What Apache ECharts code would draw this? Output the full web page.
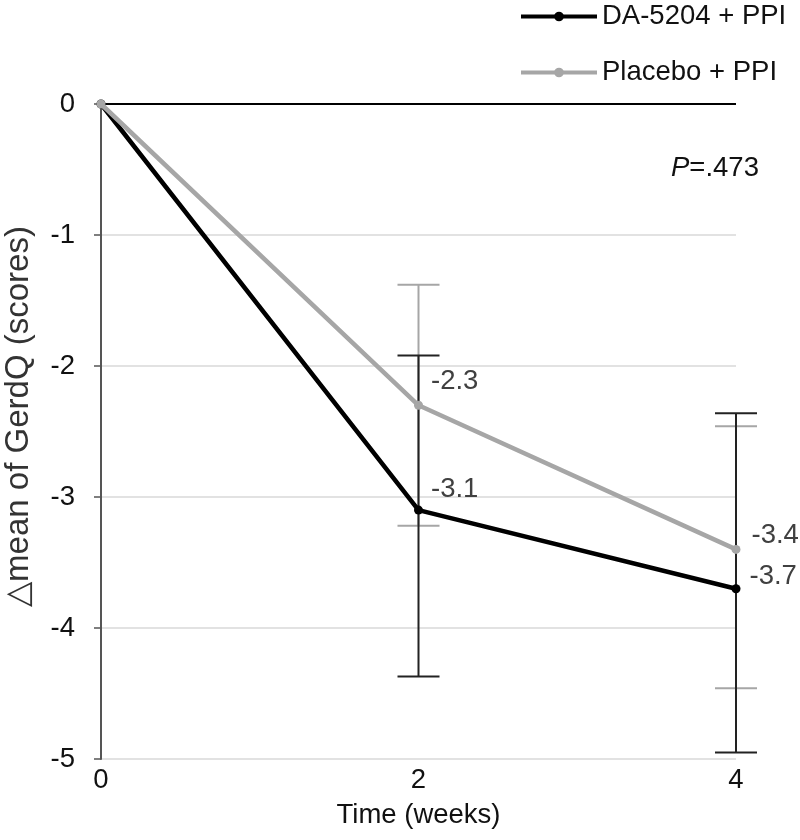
<!DOCTYPE html>
<html>
<head>
<meta charset="utf-8">
<script src="https://cdn.jsdelivr.net/npm/echarts@6/dist/echarts.min.js"></script>
<style>html,body{margin:0;padding:0;background:#fff}#c{width:800px;height:840px}</style>
</head>
<body>
<div id="c"></div>
<script>
const weeks = [0, 2, 4];
const daMean = [0, -3.1, -3.7];
const daUpper = [null, -1.92, -2.36];
const daLower = [null, -4.37, -4.95];
const placeboMean = [0, -2.3, -3.4];
const placeboUpper = [null, -1.38, -2.46];
const placeboLower = [null, -3.22, -4.46];
const seriesNames = ['DA-5204 + PPI', 'Placebo + PPI'];
const xTicks = [0, 2, 4];
const yTicks = [0, -1, -2, -3, -4, -5];

const FONT = 'Liberation Sans, Arial, sans-serif';
const FS = 27.5;
const BLACK = '#000000';
const GRAY = '#a6a6a6';

function errData(lower, upper) {
  const out = [];
  weeks.forEach((w, i) => { if (lower[i] != null) out.push([w, lower[i], upper[i]]); });
  return out;
}
function renderErr(color) {
  return function (params, api) {
    const x = api.value(0);
    const lo = api.coord([x, api.value(1)]);
    const hi = api.coord([x, api.value(2)]);
    const hw = 21;
    const st = { stroke: color, lineWidth: 2 };
    return { type: 'group', children: [
      { type: 'line', shape: { x1: lo[0], y1: lo[1], x2: hi[0], y2: hi[1] }, style: st },
      { type: 'line', shape: { x1: lo[0] - hw, y1: lo[1], x2: lo[0] + hw, y2: lo[1] }, style: st },
      { type: 'line', shape: { x1: hi[0] - hw, y1: hi[1], x2: hi[0] + hw, y2: hi[1] }, style: st }
    ]};
  };
}
function lineData(vals, offsets) {
  return weeks.map((w, i) => ({
    value: [w, vals[i]],
    label: { show: i > 0, offset: offsets[i] }
  }));
}
const daOffsets = [[0, 0], [8, -21], [9, -12]];
const plOffsets = [[0, 0], [8, -24], [11, -14]];

const chart = echarts.init(document.getElementById('c'), null, { renderer: 'canvas' });
chart.setOption({
  animation: false,
  backgroundColor: '#fff',
  textStyle: { fontFamily: FONT },
  grid: { left: 101, right: 64, top: 104, bottom: 81, containLabel: false, outerBoundsMode: 'none' },
  legend: {
    left: 519, top: 1, orient: 'vertical', padding: 0,
    itemWidth: 76, itemHeight: 12, itemGap: 25,
    data: seriesNames,
    lineStyle: { width: 4 },
    textStyle: { fontSize: FS, color: '#111', fontFamily: FONT, lineHeight: 31 }
  },
  xAxis: {
    type: 'value', min: 0, max: 4, interval: 2,
    name: 'Time (weeks)', nameLocation: 'middle', nameGap: 42,
    nameTextStyle: { fontSize: FS, color: '#111', fontFamily: FONT },
    axisLine: { show: false }, axisTick: { show: false },
    splitLine: { show: false },
    axisLabel: { fontSize: FS, color: '#111', margin: 7, fontFamily: FONT,
      formatter: v => xTicks.includes(v) ? String(v) : '' }
  },
  yAxis: {
    type: 'value', min: -5, max: 0, interval: 1,
    name: '\u25B3mean of GerdQ (scores)', nameLocation: 'middle', nameGap: 66, nameRotate: 90,
    nameTextStyle: { fontSize: 33, color: '#333', fontFamily: FONT, padding: [0, 0, 0, 30] },
    axisLine: { show: true, onZero: false, lineStyle: { color: '#555', width: 2 } },
    axisTick: { show: true, inside: false, length: 7, lineStyle: { color: '#555', width: 1.5 } },
    splitLine: { show: true, lineStyle: { color: '#d9d9d9', width: 1.5 } },
    axisLabel: { fontSize: FS, color: '#111', margin: 26, fontFamily: FONT,
      formatter: v => yTicks.includes(v) ? String(v) : '' }
  },
  graphic: [{
    type: 'text', left: 671, top: 154,
    style: {
      text: '{i|P}=.473', fontSize: FS, fontFamily: FONT, fill: '#111',
      rich: { i: { fontStyle: 'italic', fontSize: FS, fontFamily: FONT, fill: '#111' } }
    }
  }],
  series: [
    {
      type: 'custom', name: 'placeboErr', z: 2, silent: true,
      renderItem: renderErr(GRAY), data: errData(placeboLower, placeboUpper),
      encode: { x: 0, y: [1, 2] }
    },
    {
      type: 'custom', name: 'daErr', z: 3, silent: true,
      renderItem: renderErr('#222'), data: errData(daLower, daUpper),
      encode: { x: 0, y: [1, 2] }
    },
    {
      type: 'line', name: seriesNames[0], z: 4,
      data: lineData(daMean, daOffsets),
      symbol: 'circle', symbolSize: 9,
      lineStyle: { color: BLACK, width: 4.5 }, itemStyle: { color: BLACK },
      label: { position: 'right', distance: 0, fontSize: FS, color: '#404040', fontFamily: FONT,
        formatter: p => p.value[1].toFixed(1) },
      markLine: {
        silent: true, symbol: 'none', label: { show: false },
        lineStyle: { color: '#000', width: 2, type: 'solid' },
        data: [{ yAxis: 0 }]
      }
    },
    {
      type: 'line', name: seriesNames[1], z: 5,
      data: lineData(placeboMean, plOffsets),
      symbol: 'circle', symbolSize: 9,
      lineStyle: { color: GRAY, width: 4.5 }, itemStyle: { color: GRAY },
      label: { position: 'right', distance: 0, fontSize: FS, color: '#404040', fontFamily: FONT,
        formatter: p => p.value[1].toFixed(1) }
    }
  ]
});
</script>
</body>
</html>
